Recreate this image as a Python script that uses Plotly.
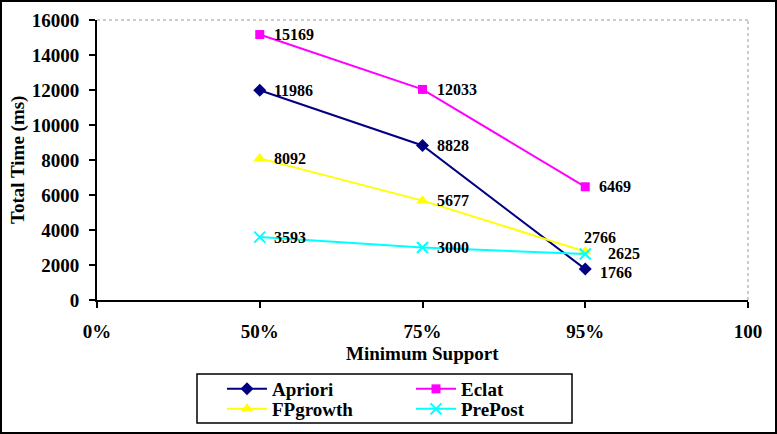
import plotly.graph_objects as go

categories = ["0%", "50%", "75%", "95%", "100"]
x_points = ["50%", "75%", "95%"]
apriori = [11986, 8828, 1766]
eclat = [15169, 12033, 6469]
fpgrowth = [8092, 5677, 2766]
prepost = [3593, 3000, 2625]

W, H = 777, 434
L, R, T, B = 97, 29, 20, 134
PW, PH = W - L - R, H - T - B

def px(x):
    return (x - L) / PW

def py(y):
    return (H - B - y) / PH

FONT = "Liberation Serif"
series = [
    ("Apriori", apriori, "#000080", "diamond", 10),
    ("Eclat", eclat, "#FF00FF", "square", 9),
    ("FPgrowth", fpgrowth, "#FFFF00", "triangle-up", 11),
    ("PrePost", prepost, "#00FFFF", "x-thin", 11),
]
legend_slots = {
    "Apriori": ("legend", 222, 389),
    "Eclat": ("legend2", 411, 389),
    "FPgrowth": ("legend3", 222, 409),
    "PrePost": ("legend4", 411, 409),
}

fig = go.Figure()
for name, vals, color, sym, size in series:
    marker = dict(symbol=sym, size=size, color=color)
    if sym == "x-thin":
        marker["line"] = dict(color=color, width=2)
    fig.add_trace(go.Scatter(
        x=x_points, y=vals, name=name, mode="lines+markers",
        line=dict(color=color, width=2), marker=marker,
        legend=legend_slots[name][0],
    ))

label_offsets = {
    ("FPgrowth", 2): (-3, 14),
    ("PrePost", 2): (21, 1),
    ("Apriori", 2): (13, -3),
}
annotations = []
for name, vals, color, sym, size in series:
    for i, v in enumerate(vals):
        dx, dy = label_offsets.get((name, i), (12, 0))
        annotations.append(dict(
            x=x_points[i], y=v, xref="x", yref="y", text=str(v),
            showarrow=False, xanchor="left", yanchor="middle",
            xshift=dx, yshift=dy,
            font=dict(family=FONT, size=16, color="black", weight="bold"),
        ))

annotations.append(dict(
    x=0.5, y=py(353), xref="paper", yref="paper", text="Minimum Support",
    showarrow=False, xanchor="center", yanchor="middle",
    font=dict(family=FONT, size=19, color="black", weight="bold"),
))
annotations.append(dict(
    x=px(18), y=0.5, xref="paper", yref="paper", text="Total Time (ms)",
    showarrow=False, xanchor="center", yanchor="middle", textangle=-90,
    font=dict(family=FONT, size=19, color="black", weight="bold"),
))

shapes = [
    dict(type="rect", xref="paper", yref="paper",
         x0=px(1), x1=px(776), y0=py(433), y1=py(1),
         line=dict(color="black", width=2)),
    dict(type="line", xref="paper", yref="paper", x0=0, x1=1, y0=1, y1=1,
         line=dict(color="#999999", width=1, dash="dot")),
    dict(type="line", xref="paper", yref="paper", x0=1, x1=1, y0=0, y1=1,
         line=dict(color="#999999", width=1, dash="dot")),
    dict(type="rect", xref="paper", yref="paper",
         x0=px(197), x1=px(572), y0=py(423), y1=py(374),
         line=dict(color="black", width=1.5)),
]

legend_font = dict(family=FONT, size=19, color="black", weight="bold")
layout_legends = {}
for name, (key, lx, ly) in legend_slots.items():
    layout_legends[key] = dict(
        x=px(lx), y=py(ly), xanchor="left", yanchor="middle",
        font=legend_font, bgcolor="rgba(0,0,0,0)", borderwidth=0,
        itemwidth=40,
    )

tickfont = dict(family=FONT, size=19, color="black", weight="bold")
fig.update_layout(
    width=W, height=H,
    margin=dict(l=L, r=R, t=T, b=B, autoexpand=False),
    paper_bgcolor="white", plot_bgcolor="white",
    showlegend=True,
    xaxis=dict(
        type="category", categoryorder="array", categoryarray=categories,
        tickvals=categories, range=[0, 4],
        showline=True, linecolor="black", linewidth=2,
        ticks="outside", ticklen=6, tickwidth=1.5, tickcolor="black",
        showgrid=False, zeroline=False, tickfont=tickfont,
        ticklabelstandoff=7,
    ),
    yaxis=dict(
        range=[0, 16000], dtick=2000, tickformat="d",
        showline=True, linecolor="black", linewidth=2,
        ticks="outside", ticklen=6, tickwidth=1.5, tickcolor="black",
        showgrid=False, zeroline=False, tickfont=tickfont,
        ticklabelstandoff=6,
    ),
    annotations=annotations,
    shapes=shapes,
    **layout_legends,
)
fig.write_html("out.html")
